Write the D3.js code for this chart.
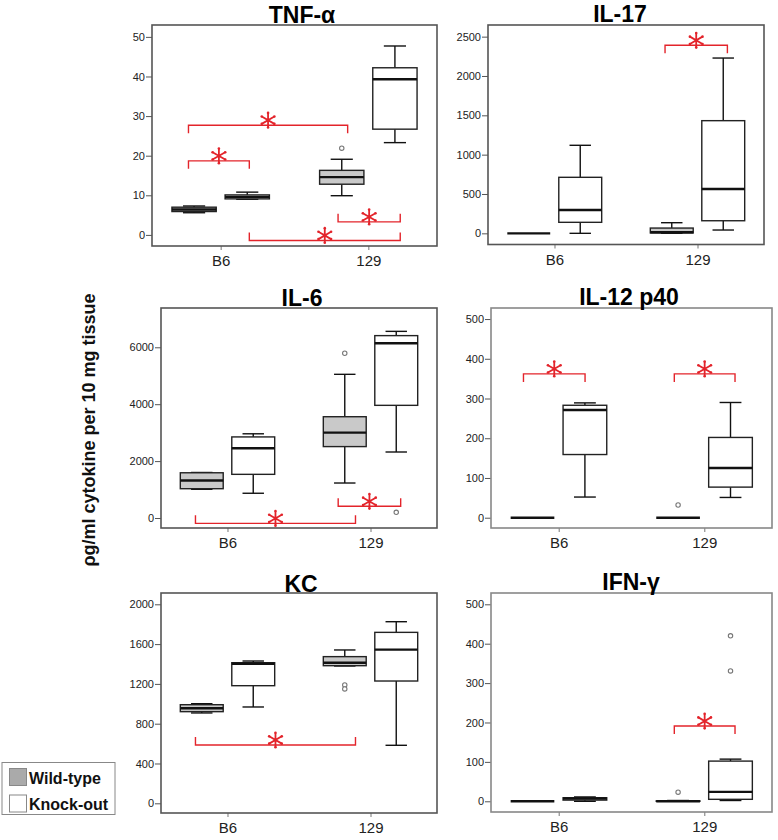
<!DOCTYPE html>
<html>
<head>
<meta charset="utf-8">
<script src="https://cdn.jsdelivr.net/npm/d3@7/dist/d3.min.js"></script>
<style>
  html, body { margin: 0; padding: 0; background: #fff; }
  svg { display: block; font-family: Arial, "Liberation Sans", sans-serif; }
</style>
</head>
<body>
<svg id="chart" width="778" height="840"></svg>
<script>
// ---------------- DATA ----------------
const categories = ["B6", "129"];
const seriesNames = ["Wild-type", "Knock-out"];
const panelTitles = ["TNF-\u03b1", "IL-17", "IL-6", "IL-12 p40", "KC", "IFN-\u03b3"];
const yAxisLabel = "\u03c1g/ml cytokine per 10 mg tissue";

// box stats: [min, q1, median, q3, max] for B6, 129
const tnfWT = [[5.6, 5.9, 6.4, 7.0, 7.3], [9.9, 12.8, 14.6, 16.3, 19.1]];
const tnfKO = [[9.0, 9.1, 9.6, 10.1, 10.8], [23.3, 26.7, 39.3, 42.2, 47.7]];
const tnfOutWT = [[], [21.9]];
const tnfOutKO = [[], []];
const tnfTicks = [0, 10, 20, 30, 40, 50];
const tnfDomain = [-2.8, 53];

const il17WT = [[0, 0, 0, 0, 0], [0, 5, 13, 67, 135]];
const il17KO = [[0, 140, 296, 712, 1119], [42, 160, 563, 1432, 2228]];
const il17OutWT = [[], []];
const il17OutKO = [[], []];
const il17Ticks = [0, 500, 1000, 1500, 2000, 2500];
const il17Domain = [-142, 2648];

const il6WT = [[1010, 1030, 1320, 1590, 1600], [1230, 2510, 3000, 3560, 5050]];
const il6KO = [[870, 1535, 2450, 2850, 2960], [2320, 3960, 6140, 6410, 6560]];
const il6OutWT = [[], [5790]];
const il6OutKO = [[], [200]];
const il6Ticks = [0, 2000, 4000, 6000];
const il6Domain = [-351, 7381];

const il12WT = [[0, 0, 0, 0, 0], [0, 0, 0, 0, 0]];
const il12KO = [[52, 159, 271, 283, 289], [51, 77, 125, 202, 290]];
const il12OutWT = [[], [32]];
const il12OutKO = [[], []];
const il12Ticks = [0, 100, 200, 300, 400, 500];
const il12Domain = [-25.9, 527.8];

const kcWT = [[908, 921, 955, 991, 1001], [1380, 1383, 1413, 1474, 1541]];
const kcKO = [[968, 1182, 1403, 1413, 1430], [583, 1229, 1544, 1718, 1825]];
const kcOutWT = [[], [1190, 1150]];
const kcOutKO = [[], []];
const kcTicks = [0, 400, 800, 1200, 1600, 2000];
const kcDomain = [-97.5, 2113.6];

const ifnWT = [[0, 0, 0, 0, 0], [0, 0, 0, 1, 2]];
const ifnKO = [[0, 3, 7, 9, 11], [2, 5, 24, 102, 107]];
const ifnOutWT = [[], [23]];
const ifnOutKO = [[], [331, 420]];
const ifnTicks = [0, 100, 200, 300, 400, 500];
const ifnDomain = [-27.2, 528.7];

// significance brackets: [xStart, xEnd (0 = B6, 1 = 129 position units), y value, leg direction]
const tnfBrackets = [[-0.218, 0.860, 27.7, "down"], [-0.218, 0.194, 18.7, "down"], [0.194, 1.216, -1.4, "up"], [0.795, 1.216, 3.3, "up"]];
const il17Brackets = [[0.773, 1.209, 2390, "down"]];
const il6Brackets = [[-0.224, 0.895, -187, "up"], [0.774, 1.211, 411, "up"]];
const il12Brackets = [[-0.242, 0.181, 362, "down"], [0.794, 1.211, 362, "down"]];
const kcBrackets = [[-0.224, 0.895, 586, "up"]];
const ifnBrackets = [[0.794, 1.211, 191, "down"]];

// ---------------- LAYOUT ----------------
const layout = [
  { l: 152, r: 437, t: 25, b: 246, tx: 302, ty: 22.7, frame: "#555" },
  { l: 488, r: 764, t: 25, b: 244.5, tx: 620, ty: 21.5, frame: "#555" },
  { l: 161, r: 437, t: 308, b: 528, tx: 302, ty: 305.7, frame: "#555" },
  { l: 491, r: 772, t: 308, b: 528, tx: 629, ty: 304.5, frame: "#888" },
  { l: 161, r: 437, t: 593, b: 813, tx: 301, ty: 591.7, frame: "#555" },
  { l: 491, r: 772, t: 593, b: 812, tx: 631, ty: 590, frame: "#888" }
];

const panels = [
  { wt: tnfWT, ko: tnfKO, ow: tnfOutWT, ok: tnfOutKO, ticks: tnfTicks, domain: tnfDomain, br: tnfBrackets },
  { wt: il17WT, ko: il17KO, ow: il17OutWT, ok: il17OutKO, ticks: il17Ticks, domain: il17Domain, br: il17Brackets },
  { wt: il6WT, ko: il6KO, ow: il6OutWT, ok: il6OutKO, ticks: il6Ticks, domain: il6Domain, br: il6Brackets },
  { wt: il12WT, ko: il12KO, ow: il12OutWT, ok: il12OutKO, ticks: il12Ticks, domain: il12Domain, br: il12Brackets },
  { wt: kcWT, ko: kcKO, ow: kcOutWT, ok: kcOutKO, ticks: kcTicks, domain: kcDomain, br: kcBrackets },
  { wt: ifnWT, ko: ifnKO, ow: ifnOutWT, ok: ifnOutKO, ticks: ifnTicks, domain: ifnDomain, br: ifnBrackets }
];

const RED = "#e3242b";
const WT_FILL = "#c9c9c9";

const svg = d3.select("#chart");

function starPath(cx, cy, r) {
  let d = "";
  [90, 30, 150].forEach(a => {
    const rad = a * Math.PI / 180;
    const dx = Math.cos(rad) * r, dy = Math.sin(rad) * r;
    d += `M${cx - dx},${cy + dy}L${cx + dx},${cy - dy}`;
  });
  return d;
}

panels.forEach((p, i) => {
  const L = layout[i];
  const g = svg.append("g");

  const x = d3.scalePoint().domain(categories).range([L.l, L.r]).padding(0.465);
  const step = x.step();
  const xu = d3.scaleLinear().domain([0, 1]).range([x(categories[0]), x(categories[1])]);
  const y = d3.scaleLinear().domain(p.domain).range([L.b, L.t]);
  const sub = d3.scalePoint().domain(seriesNames).range([-0.18 * step, 0.18 * step]);
  const bw = 0.30 * step;
  const capW = 0.075 * step;

  // frame background
  g.append("rect").attr("x", L.l).attr("y", L.t).attr("width", L.r - L.l).attr("height", L.b - L.t)
    .attr("fill", "#fff");

  // y axis
  const ya = g.append("g").attr("transform", `translate(${L.l},0)`)
    .call(d3.axisLeft(y).tickValues(p.ticks).tickSize(6).tickPadding(1).tickFormat(d3.format("d")));
  ya.select(".domain").remove();
  ya.selectAll(".tick line").attr("stroke", "#555");
  ya.selectAll(".tick text").attr("fill", "#222").style("font-size", "11px")
    .style("font-family", "Arial, 'Liberation Sans', sans-serif");

  // x axis
  const xa = g.append("g").attr("transform", `translate(0,${L.b})`)
    .call(d3.axisBottom(x).tickSize(4).tickPadding(5.4));
  xa.select(".domain").remove();
  xa.selectAll(".tick line").attr("stroke", "#777");
  xa.selectAll(".tick text").attr("fill", "#222").style("font-size", "15px")
    .style("font-family", "Arial, 'Liberation Sans', sans-serif");

  // boxes
  const groups = [];
  categories.forEach((c, ci) => {
    groups.push({ cx: x(c) + sub(seriesNames[0]), s: p.wt[ci], out: p.ow[ci], fill: WT_FILL });
    groups.push({ cx: x(c) + sub(seriesNames[1]), s: p.ko[ci], out: p.ok[ci], fill: "#fff" });
  });

  groups.forEach(b => {
    const [mn, q1, md, q3, mx] = b.s;
    const bg = g.append("g");
    // whiskers
    bg.append("line").attr("x1", b.cx).attr("x2", b.cx).attr("y1", y(q3)).attr("y2", y(mx))
      .attr("stroke", "#111").attr("stroke-width", 1.4);
    bg.append("line").attr("x1", b.cx).attr("x2", b.cx).attr("y1", y(q1)).attr("y2", y(mn))
      .attr("stroke", "#111").attr("stroke-width", 1.4);
    if (mx > q3) bg.append("line").attr("x1", b.cx - capW).attr("x2", b.cx + capW).attr("y1", y(mx)).attr("y2", y(mx))
      .attr("stroke", "#111").attr("stroke-width", 1.4);
    if (mn < q1) bg.append("line").attr("x1", b.cx - capW).attr("x2", b.cx + capW).attr("y1", y(mn)).attr("y2", y(mn))
      .attr("stroke", "#111").attr("stroke-width", 1.4);
    // box
    bg.append("rect").attr("x", b.cx - bw / 2).attr("width", bw)
      .attr("y", y(q3)).attr("height", Math.max(0, y(q1) - y(q3)))
      .attr("fill", b.fill).attr("stroke", "#222").attr("stroke-width", 1.4);
    // median
    bg.append("line").attr("x1", b.cx - bw / 2).attr("x2", b.cx + bw / 2).attr("y1", y(md)).attr("y2", y(md))
      .attr("stroke", "#111").attr("stroke-width", 2.4);
    // outliers
    b.out.forEach(o => {
      bg.append("circle").attr("cx", b.cx).attr("cy", y(o)).attr("r", 2.2)
        .attr("fill", "#fff").attr("stroke", "#777").attr("stroke-width", 1.1);
    });
  });

  // brackets
  p.br.forEach(([u1, u2, v, dir]) => {
    const x1 = xu(u1), x2 = xu(u2), yy = y(v);
    const leg = dir === "down" ? 8 : -8;
    g.append("path").attr("d", `M${x1},${yy + leg}L${x1},${yy}L${x2},${yy}L${x2},${yy + leg}`)
      .attr("fill", "none").attr("stroke", RED).attr("stroke-width", 1.4);
    const cx = (x1 + x2) / 2, cy = yy - 5, r = 7.3;
    g.append("path").attr("d", starPath(cx, cy, r)).attr("stroke", RED).attr("stroke-width", 1.8).attr("fill", "none");
    [90, 30, 150, 270, 210, 330].forEach(a => {
      const rad = a * Math.PI / 180;
      g.append("circle").attr("cx", cx + Math.cos(rad) * r).attr("cy", cy - Math.sin(rad) * r).attr("r", 1.3).attr("fill", RED);
    });
  });

  // frame border
  g.append("rect").attr("x", L.l).attr("y", L.t).attr("width", L.r - L.l).attr("height", L.b - L.t)
    .attr("fill", "none").attr("stroke", L.frame).attr("stroke-width", 1.6);

  // title
  g.append("text").attr("x", L.tx).attr("y", L.ty).attr("text-anchor", "middle")
    .style("font-size", "23px").style("font-weight", "bold").attr("fill", "#000")
    .text(panelTitles[i]);
});

// y axis label
svg.append("text").attr("transform", "translate(95,430) rotate(-90)").attr("text-anchor", "middle")
  .style("font-size", "18px").style("font-weight", "bold").attr("fill", "#111").text(yAxisLabel);

// legend
const lg = svg.append("g");
lg.append("rect").attr("x", 2).attr("y", 762.5).attr("width", 113).attr("height", 52)
  .attr("fill", "#fff").attr("stroke", "#888").attr("stroke-width", 1);
const legFills = ["#aaaaaa", "#ffffff"];
seriesNames.forEach((s, i) => {
  lg.append("rect").attr("x", 9.5).attr("y", 768.5 + i * 26.5).attr("width", 17).attr("height", 17)
    .attr("fill", legFills[i]).attr("stroke", "#888").attr("stroke-width", 1);
  lg.append("text").attr("x", 29).attr("y", 784 + i * 26).style("font-size", "16px").style("font-weight", "bold")
    .attr("fill", "#111").text(s);
});
</script>
</body>
</html>
